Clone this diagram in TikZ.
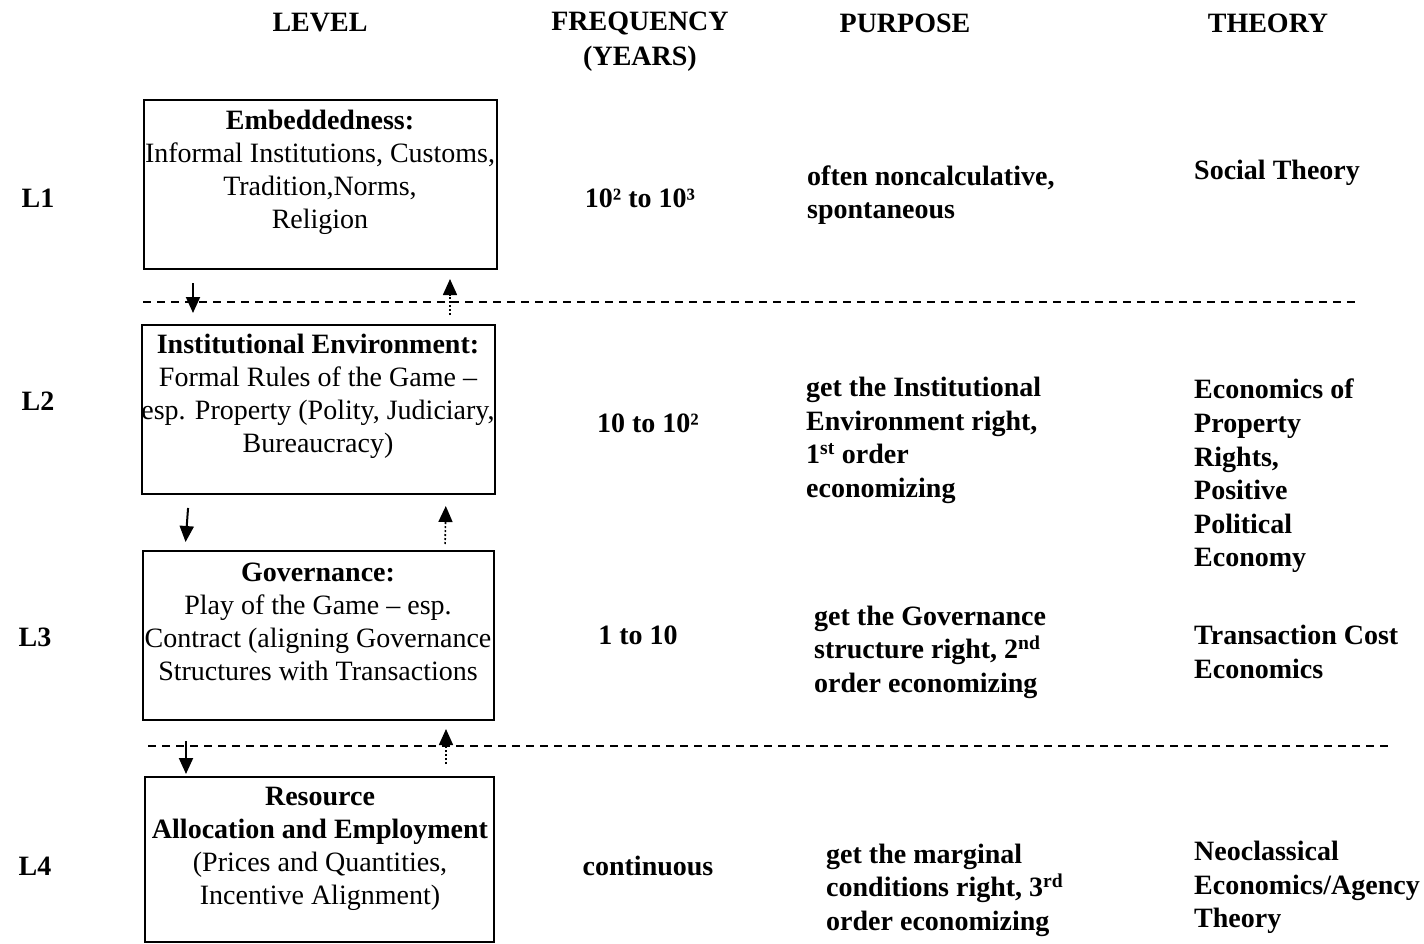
\documentclass[tikz,border=0pt]{standalone}
\usepackage{fontspec}
\setmainfont{Liberation Serif}
\usetikzlibrary{positioning,calc,arrows.meta}

\tikzset{
  levelbox/.style={draw, line width=2pt, minimum width=353pt, minimum height=169pt, inner sep=0pt},
  boxtext/.style={align=center, inner sep=0pt, font=\fontsize{28}{33}\selectfont},
  head/.style={align=center, inner sep=0pt, font=\fontsize{28}{35}\selectfont\bfseries},
  lvl/.style={inner sep=0pt, font=\fontsize{28}{33}\selectfont\bfseries},
  colnote/.style={align=left, anchor=west, inner sep=0pt, font=\fontsize{28}{33.6}\selectfont\bfseries},
  sepline/.style={line width=2pt, dash pattern=on 8pt off 6pt},
  downarr/.style={line width=2pt, -{Triangle[length=16pt,width=14pt]}},
  uparr/.style={line width=1.6pt, dash pattern=on 2pt off 2pt, -{Triangle[length=16pt,width=14pt]}}
}

\begin{document}
\begin{tikzpicture}[x=1pt, y=-1pt]
    \useasboundingbox (0,0) rectangle (1424,944);

    % column heads
    \node[head] (hlevel) at (320,23) {LEVEL};
    \node[head] (hfreq) at (640,42) {FREQUENCY\\(YEARS)};
    \node[head] (hpurp) at (905,23) {PURPOSE};
    \node[head] (htheo) at (1268,23) {THEORY};

    % levels
    \node[lvl] (l1) at (38,198) {L1};
    \node[lvl] (l2) at (38,401) {L2};
    \node[lvl] (l3) at (35,637) {L3};
    \node[lvl] (l4) at (35,866) {L4};

    % boxes
    \node[levelbox] (b1) at (320.5,184.5) {};
    \node[levelbox] (b2) at (318.5,409.5) {};
    \node[levelbox, minimum width=351pt] (b3) at (318.5,635.5) {};
    \node[levelbox, minimum width=349pt, minimum height=165pt] (b4) at (319.5,859.5) {};

    \node[boxtext] (t1) at (320,172) {\textbf{Embeddedness:}\\Informal Institutions, Customs,\\Tradition,Norms,\\Religion};
    \node[boxtext] (t2) at (318,396.5) {\textbf{Institutional Environment:}\\Formal Rules of the Game --\\esp. Property (Polity, Judiciary,\\Bureaucracy)};
    \node[boxtext] (t3) at (318,621.5) {\textbf{Governance:}\\Play of the Game -- esp.\\Contract (aligning Governance\\Structures with Transactions};
    \node[boxtext] (t4) at (320,849) {\textbf{Resource}\\\textbf{Allocation and Employment}\\(Prices and Quantities,\\Incentive Alignment)};

    % dashed separators
    \coordinate (s1w) at (143,302);
    \coordinate (s1e) at (1355,302);
    \coordinate (s2w) at (148,746);
    \coordinate (s2e) at (1388,746);
    \draw[sepline] (s1w) -- (s1e);
    \draw[sepline] (s2w) -- (s2e);

    % arrows between levels
    \draw[downarr, shorten <=13pt, shorten >=11pt] ([xshift=50pt]b1.south west) -- ([xshift=52pt]b2.north west);
    \draw[uparr, shorten <=9pt, shorten >=9pt] ([xshift=309pt]b2.north west) -- ([xshift=307pt]b1.south west);
    \draw[downarr, shorten <=13pt, shorten >=8pt] ([xshift=48pt]b2.south west) -- ([xshift=43pt]b3.north west);
    \draw[uparr, shorten <=6pt, shorten >=11pt] ([xshift=303pt]b3.north west) -- ([xshift=305pt]b2.south west);
    \draw[downarr, shorten <=20pt, shorten >=2pt] ([xshift=44pt]b3.south west) -- ([xshift=42pt]b4.north west);
    \draw[uparr, shorten <=12pt, shorten >=8pt] ([xshift=302pt]b4.north west) -- ([xshift=304pt]b3.south west);

    % frequency
    \node[lvl] (f1) at (640,198) {10² to 10³};
    \node[lvl] (f2) at (648,423) {10 to 10²};
    \node[lvl] (f3) at (638,635) {1 to 10};
    \node[lvl] (f4) at (648,866) {continuous};

    % purpose
    \node[colnote] (p1) at (807,195) {often noncalculative,\\spontaneous};
    \node[colnote] (p2) at (806,440.5) {get the Institutional\\Environment right,\\1\textsuperscript{st} order\\economizing};
    \node[colnote] (p3) at (814,652) {get the Governance\\structure right, 2\textsuperscript{nd}\\order economizing};
    \node[colnote] (p4) at (826,890) {get the marginal\\conditions right, 3\textsuperscript{rd}\\order economizing};

    % theory
    \node[colnote] (th1) at (1194,172.5) {Social Theory};
    \node[colnote] (th2) at (1194,476) {Economics of\\Property\\Rights,\\Positive\\Political\\Economy};
    \node[colnote] (th3) at (1194,652) {Transaction Cost\\Economics};
    \node[colnote] (th4) at (1194,887.5) {Neoclassical\\Economics/Agency\\Theory};
\end{tikzpicture}
\end{document}
